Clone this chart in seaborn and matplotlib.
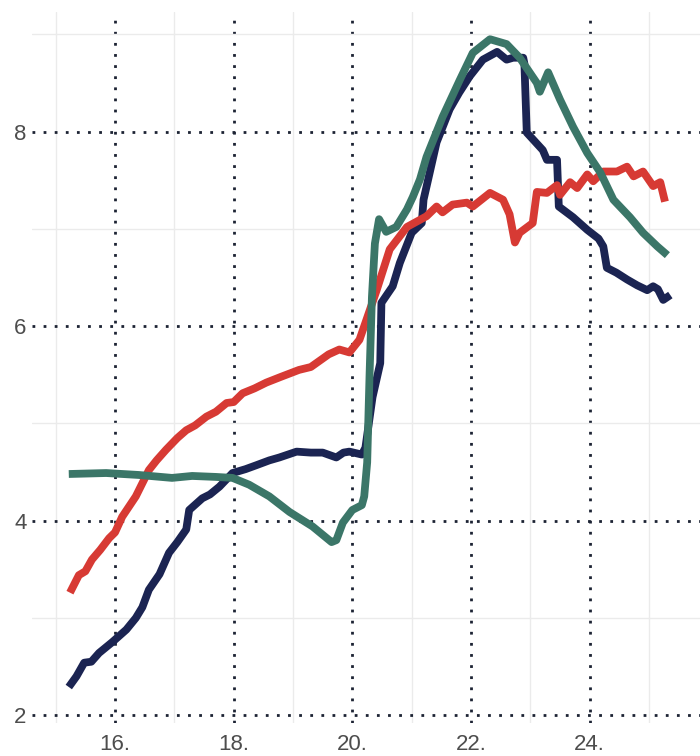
import matplotlib
matplotlib.use("Agg")
import matplotlib.pyplot as plt
import numpy as np
import pandas as pd
import seaborn as sns

# values
navy_x = [15.22, 15.35, 15.48, 15.6, 15.73, 15.95, 16.19, 16.35, 16.46, 16.57, 16.75,
          16.91, 17.05, 17.2, 17.25, 17.47, 17.6, 17.76, 17.98, 18.2, 18.38, 18.6, 18.77,
          19.06, 19.3, 19.5, 19.73, 19.85, 19.95, 20.16, 20.22, 20.34, 20.47, 20.49, 20.68,
          20.8, 21.0, 21.17, 21.2, 21.42, 21.64, 21.8, 21.98, 22.2, 22.44, 22.6, 22.71,
          22.88, 22.9, 22.94, 23.0, 23.21, 23.28, 23.45, 23.48, 23.72, 23.96, 24.15, 24.23,
          24.29, 24.45, 24.63, 24.8, 24.97, 25.07, 25.15, 25.24, 25.36]
navy_y = [2.29, 2.40, 2.54, 2.55, 2.64, 2.75, 2.88, 3.00, 3.11, 3.29, 3.45,
          3.67, 3.78, 3.91, 4.11, 4.23, 4.27, 4.35, 4.49, 4.53, 4.57, 4.62, 4.65,
          4.71, 4.70, 4.70, 4.65, 4.70, 4.71, 4.68, 4.75, 5.27, 5.62, 6.24, 6.41,
          6.65, 6.96, 7.06, 7.30, 7.89, 8.23, 8.40, 8.57, 8.74, 8.82, 8.74, 8.76,
          8.76, 8.70, 7.99, 7.95, 7.81, 7.71, 7.71, 7.23, 7.12, 6.99, 6.90, 6.82,
          6.60, 6.55, 6.48, 6.42, 6.37, 6.41, 6.38, 6.27, 6.32]

red_x = [15.24, 15.39, 15.5, 15.61, 15.75, 15.9, 16.0, 16.12, 16.35, 16.57, 16.7, 16.86,
         17.05, 17.2, 17.35, 17.54, 17.7, 17.88, 18.0, 18.15, 18.35, 18.55, 18.8, 19.1,
         19.3, 19.6, 19.78, 19.95, 20.12, 20.24, 20.41, 20.63, 20.92, 21.25, 21.42, 21.52,
         21.69, 21.93, 22.03, 22.32, 22.54, 22.65, 22.74, 22.82, 23.04, 23.11, 23.28, 23.45,
         23.5, 23.67, 23.79, 23.96, 24.06, 24.23, 24.46, 24.63, 24.74, 24.9, 25.07, 25.19,
         25.27]
red_y = [3.26, 3.44, 3.48, 3.60, 3.70, 3.82, 3.88, 4.04, 4.25, 4.52, 4.62, 4.73,
         4.85, 4.93, 4.98, 5.07, 5.12, 5.21, 5.22, 5.31, 5.36, 5.42, 5.48, 5.55,
         5.58, 5.71, 5.76, 5.73, 5.86, 6.07, 6.37, 6.79, 7.02, 7.13, 7.23, 7.17,
         7.25, 7.27, 7.23, 7.37, 7.30, 7.15, 6.86, 6.96, 7.06, 7.38, 7.37, 7.45,
         7.35, 7.48, 7.42, 7.56, 7.49, 7.59, 7.59, 7.64, 7.54, 7.59, 7.44, 7.48,
         7.28]

green_x = [15.22, 15.85, 16.4, 16.96, 17.3, 17.7, 17.98, 18.26, 18.6, 18.94, 19.33,
           19.65, 19.73, 19.84, 20.0, 20.16, 20.2, 20.25, 20.29, 20.33, 20.38, 20.45,
           20.57, 20.74, 20.92, 21.02, 21.14, 21.25, 21.52, 21.81, 22.03, 22.32, 22.6,
           22.82, 23.11, 23.16, 23.3, 23.5, 23.72, 23.96, 24.18, 24.4, 24.68, 24.9,
           25.14, 25.31]
green_y = [4.48, 4.49, 4.47, 4.44, 4.46, 4.45, 4.44, 4.37, 4.25, 4.09, 3.94,
           3.78, 3.80, 3.98, 4.11, 4.16, 4.25, 4.60, 5.50, 6.30, 6.85, 7.10,
           6.97, 7.02, 7.20, 7.33, 7.51, 7.74, 8.15, 8.53, 8.81, 8.95, 8.90,
           8.76, 8.50, 8.41, 8.61, 8.33, 8.05, 7.78, 7.58, 7.30, 7.12, 6.96,
           6.82, 6.73]

series_names = ["navy", "red", "green"]
series_colors = ["#1b2452", "#d73a34", "#3b7668"]

x_ticks = [16, 18, 20, 22, 24]
x_tick_labels = ["16.", "18.", "20.", "22.", "24."]
y_ticks = [2, 4, 6, 8]

df = pd.concat([
    pd.DataFrame({"x": navy_x, "value": navy_y, "series": "navy"}),
    pd.DataFrame({"x": red_x, "value": red_y, "series": "red"}),
    pd.DataFrame({"x": green_x, "value": green_y, "series": "green"}),
], ignore_index=True)

sns.set_theme(style="white")
plt.rcParams["font.family"] = ["Liberation Sans", "DejaVu Sans"]
plt.rcParams["lines.scale_dashes"] = False

fig = plt.figure(figsize=(7, 7.56), dpi=100)
ax = fig.add_axes([32 / 700, 1 - 723 / 756, 1 - 32 / 700, (723 - 12) / 756])

sns.lineplot(data=df, x="x", y="value", hue="series", hue_order=series_names,
             palette=series_colors, linewidth=5.6, legend=False, sort=False,
             estimator=None, ax=ax)
for line in ax.get_lines():
    line.set_solid_capstyle("butt")
    line.set_solid_joinstyle("round")

ax.set_xlim(14.6, 25.86)
ax.set_ylim(1.92, 9.23)
ax.set_xticks(x_ticks)
ax.set_xticklabels(x_tick_labels)
ax.set_xticks([15, 17, 19, 21, 23, 25], minor=True)
ax.set_yticks(y_ticks)
ax.set_yticks([3, 5, 7, 9], minor=True)

# dark dotted major grid (about 11 px period), faint minor grid
ax.grid(which="major", color="#1c2333", linestyle=(0, (2.0, 6.0)), linewidth=2.0)
ax.grid(which="minor", color="#ebebeb", linewidth=1.0)
ax.set_axisbelow(True)
ax.tick_params(which="both", length=0, labelsize=16, labelcolor="#4d4d4d")
ax.tick_params(axis="x", pad=8)
ax.tick_params(axis="y", pad=4)
sns.despine(ax=ax, left=True, bottom=True)
ax.set_xlabel("")
ax.set_ylabel("")

fig.savefig("out.png", dpi=100)
